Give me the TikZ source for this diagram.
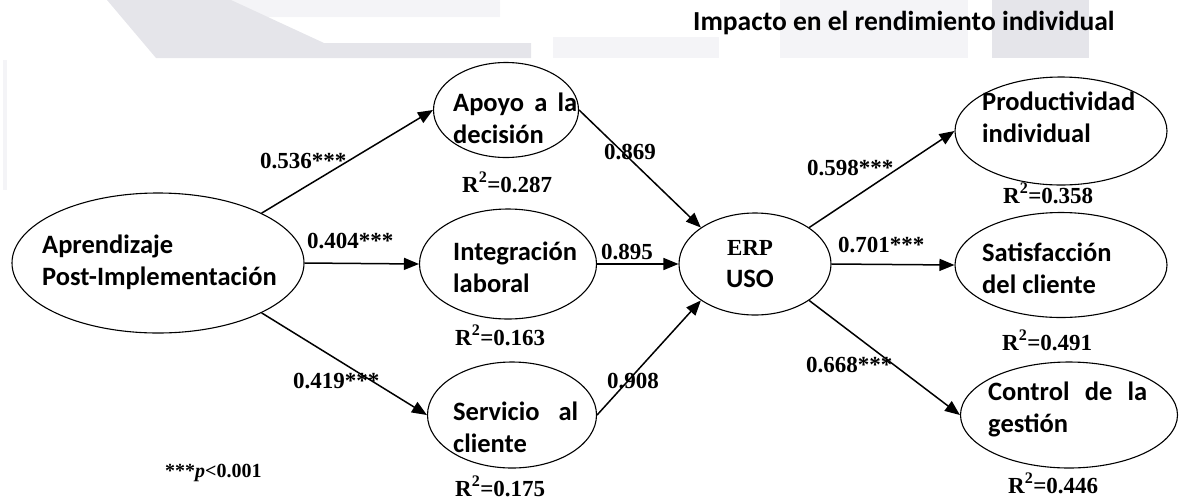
\documentclass[tikz,border=0pt]{standalone}
\usepackage{fontspec}
\setmainfont{Liberation Serif}
\newfontfamily\boxfont{Carlito}
\usetikzlibrary{shapes.geometric,arrows.meta}
\definecolor{wmdark}{RGB}{229,229,234}
\definecolor{wmlight}{RGB}{244,244,247}

\begin{document}
\begin{tikzpicture}[x=1pt,y=-1pt,
  latent/.style={draw,ellipse,line width=1.1pt,inner sep=0pt},
  lbl/.style={font=\boxfont\bfseries\fontsize{26.5}{32}\selectfont,anchor=base west,inner sep=0pt,align=left},
  coef/.style={font=\bfseries\fontsize{23}{27}\selectfont,anchor=base west,inner sep=0pt},
  link/.style={-{Triangle[length=15pt,width=12pt]},line width=1.5pt}]
\useasboundingbox (0,0) rectangle (1180,499);
\fill[wmlight] (231,0) -- (500,0) -- (500,17) -- (262,17) -- cycle;
\fill[wmdark] (107,0) -- (231,0) -- (324,43) -- (531,43) -- (531,58) -- (156,58) -- cycle;
\fill[wmlight] (553,37) rectangle (719,58);
\fill[wmlight] (780,0) rectangle (968,58);
\fill[wmdark] (992,0) rectangle (1089,58);
\fill[wmlight] (3,60) rectangle (7,190);
\node[latent,minimum width=292pt,minimum height=140pt] (apr) at (158,263) {};
\node[latent,minimum width=145pt,minimum height=95pt] (apoyo) at (506,110) {};
\node[latent,minimum width=177pt,minimum height=110pt] (integ) at (508,264) {};
\node[latent,minimum width=169pt,minimum height=106pt] (serv) at (512,415) {};
\node[latent,minimum width=152pt,minimum height=102pt] (erp) at (755,264) {};
\node[latent,minimum width=212pt,minimum height=108pt] (prod) at (1061,131) {};
\node[latent,minimum width=212pt,minimum height=105pt] (sat) at (1061,265) {};
\node[latent,minimum width=217pt,minimum height=106pt] (ctrl) at (1069,415) {};
\node[lbl] (aprtxt) at (42,285) {Aprendizaje\\Post-Implementación};
\node[lbl] (apoyotxt) at (453,143) {\makebox[124pt][s]{Apoyo a la}\\decisión};
\node[lbl] (integtxt) at (453,292) {Integración\\laboral};
\node[lbl] (servtxt) at (453,452) {\makebox[125pt][s]{Servicio al}\\cliente};
\node[lbl,anchor=base,align=center] (erptxt) at (750,287) {{\rmfamily\fontsize{23}{27}\selectfont ERP}\\USO};
\node[lbl] (prodtxt) at (982,142) {Productividad\\individual};
\node[lbl] (sattxt) at (982,293) {Satisfacción\\del cliente};
\node[lbl] (ctrltxt) at (988,432) {\makebox[159pt][s]{Control de la}\\gestión};
\node[lbl,font=\boxfont\bfseries\fontsize{27.5}{30}\selectfont] (titulo) at (693,30) {Impacto en el rendimiento individual};
\node[coef] (c1) at (260,168) {0.536***};
\node[coef] (c2) at (307,248) {0.404***};
\node[coef] (c3) at (293,388) {0.419***};
\node[coef] (c4) at (604,159) {0.869};
\node[coef] (c5) at (601,259) {0.895};
\node[coef] (c6) at (607,388) {0.908};
\node[coef] (c7) at (807,175) {0.598***};
\node[coef] (c8) at (838,252) {0.701***};
\node[coef] (c9) at (806,372) {0.668***};
\node[coef] (r1) at (462,192) {R\textsuperscript{2}=0.287};
\node[coef] (r2) at (455,345) {R\textsuperscript{2}=0.163};
\node[coef] (r3) at (455,496) {R\textsuperscript{2}=0.175};
\node[coef] (r4) at (1003,203) {R\textsuperscript{2}=0.358};
\node[coef] (r5) at (1002,350) {R\textsuperscript{2}=0.491};
\node[coef] (r6) at (1008,493) {R\textsuperscript{2}=0.446};
\node[coef,font=\bfseries\fontsize{20}{24}\selectfont] (nota) at (165,477) {***\textit{p}<0.001};
\draw[link] (apr.north east) -- (apoyo.west);
\draw[link] (apr.east) -- (integ.west);
\draw[link] (apr.south east) -- (serv.west);
\draw[link] (apoyo.east) -- (erp.north west);
\draw[link] (integ.east) -- (erp.west);
\draw[link] (serv.east) -- (erp.south west);
\draw[link] (erp.north east) -- (prod.west);
\draw[link] (erp.east) -- (sat.west);
\draw[link] (erp.south east) -- (ctrl.west);
\end{tikzpicture}
\end{document}
